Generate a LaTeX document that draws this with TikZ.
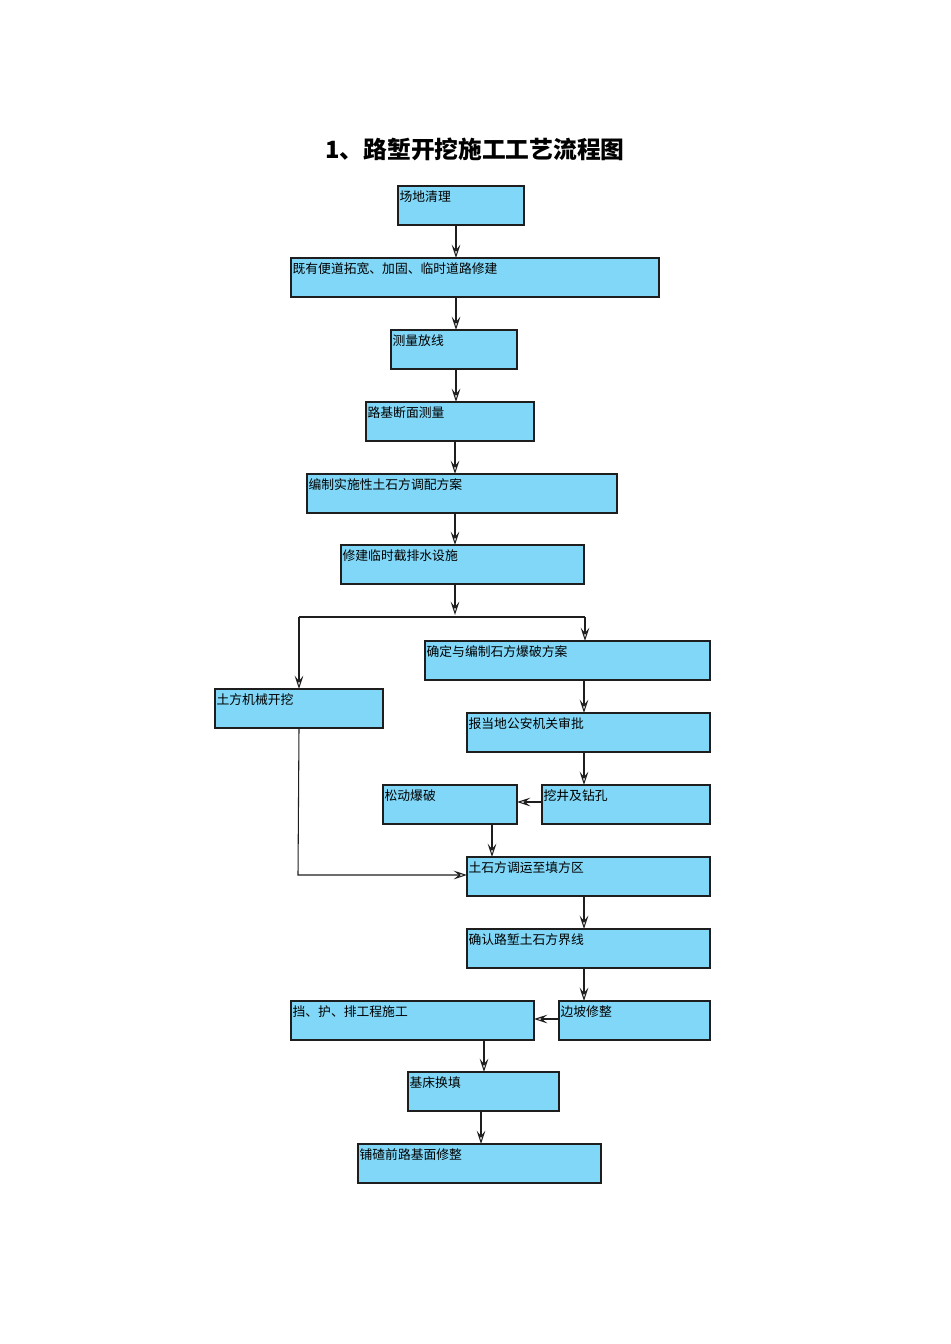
\documentclass[tikz,border=0pt]{standalone}
\usepackage{fontspec}
\setmainfont{Noto Sans CJK SC}
\usetikzlibrary{arrows.meta}
\definecolor{boxblue}{RGB}{128,215,247}
\definecolor{edge}{RGB}{30,30,30}
\tikzset{
  stepbox/.style={draw=edge, line width=1.1pt, fill=boxblue, inner sep=0pt, outer sep=0pt, rectangle},
  lbl/.style={anchor=north west, inner sep=1pt, font=\fontsize{9.6pt}{11pt}\selectfont, text=black, yshift=-2.5pt},
  arr/.style={draw=edge, line width=0.8pt, -{Stealth[open, fill=white, length=10pt, width=6.5pt, inset=4pt]}},
  ln/.style={draw=edge, line width=0.8pt}
}
\newcommand\flowbox[6]{\node[stepbox, minimum width={(#4-#2)*0.75pt}, minimum height={(#5-#3)*0.75pt}] (#1) at ({(#2+#4)/2},{(#3+#5)/2}) {};
  \node[lbl] (#1t) at (#1.north west) {#6};}
\begin{document}
\begin{tikzpicture}[x=0.75pt, y=-0.75pt]
\useasboundingbox (0,0) rectangle (950,1344);
\node[font=\fontsize{17.8pt}{21pt}\selectfont\bfseries] (title) at (475,149) {1、路堑开挖施工工艺流程图};
\flowbox{n1}{398}{186}{524}{225}{场地清理}
\flowbox{n2}{291}{258}{659}{297}{既有便道拓宽、加固、临时道路修建}
\flowbox{n3}{391}{330}{517}{369}{测量放线}
\flowbox{n4}{366}{402}{534}{441}{路基断面测量}
\flowbox{n5}{307}{474}{617}{513}{编制实施性土石方调配方案}
\flowbox{n6}{341}{545}{584}{584}{修建临时截排水设施}
\flowbox{n7}{425}{641}{710}{680}{确定与编制石方爆破方案}
\flowbox{n8}{215}{689}{383}{728}{土方机械开挖}
\flowbox{n9}{467}{713}{710}{752}{报当地公安机关审批}
\flowbox{n10}{383}{785}{517}{824}{松动爆破}
\flowbox{n11}{542}{785}{710}{824}{挖井及钻孔}
\flowbox{n12}{467}{857}{710}{896}{土石方调运至填方区}
\flowbox{n13}{467}{929}{710}{968}{确认路堑土石方界线}
\flowbox{n14}{559}{1001}{710}{1040}{边坡修整}
\flowbox{n15}{291}{1001}{534}{1040}{挡、护、排工程施工}
\flowbox{n16}{408}{1072}{559}{1111}{基床换填}
\flowbox{n17}{358}{1144}{601}{1183}{铺碴前路基面修整}
\coordinate (sp) at (455,615);
\coordinate (bl) at (299,617);
\coordinate (br) at (585,617);
\coordinate (lk) at (298,875);
\draw[arr] (n1.south -| 456,0) -- (n2.north -| 456,0);
\draw[arr] (n2.south -| 456,0) -- (n3.north -| 456,0);
\draw[arr] (n3.south -| 456,0) -- (n4.north -| 456,0);
\draw[arr] (n4.south -| 455,0) -- (n5.north -| 455,0);
\draw[arr] (n5.south -| 455,0) -- (n6.north -| 455,0);
\draw[arr] (n6.south -| 455,0) -- (sp);
\draw[ln] (bl) -- (br);
\draw[arr] (br) -- (n7.north -| br);
\draw[arr] (bl) -- (n8.north -| bl);
\draw[arr] (n7.south -| 584,0) -- (n9.north -| 584,0);
\draw[arr] (n9.south -| 584,0) -- (n11.north -| 584,0);
\draw[arr] (n11.west |- 0,802) -- (n10.east |- 0,802);
\draw[arr] (n10.south -| 492,0) -- (n12.north -| 492,0);
\draw[arr] (n8.south -| 299,0) -- (lk) -- (n12.west |- lk);
\draw[arr] (n12.south -| 584,0) -- (n13.north -| 584,0);
\draw[arr] (n13.south -| 584,0) -- (n14.north -| 584,0);
\draw[arr] (n14.west |- 0,1019) -- (n15.east |- 0,1019);
\draw[arr] (n15.south -| 484,0) -- (n16.north -| 484,0);
\draw[arr] (n16.south -| 481,0) -- (n17.north -| 481,0);
\end{tikzpicture}
\end{document}
